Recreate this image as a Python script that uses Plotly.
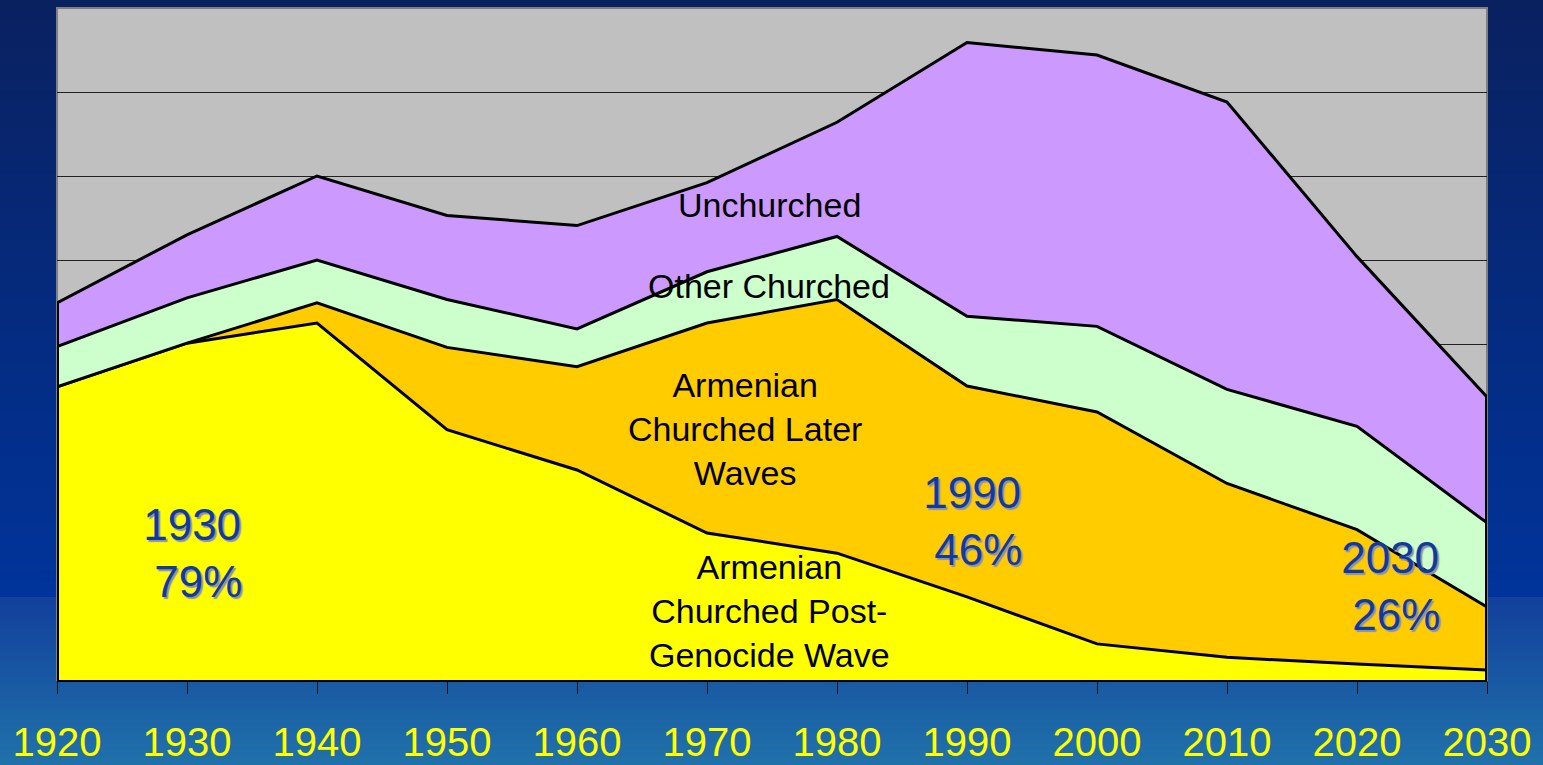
import plotly.graph_objects as go

years = [1920, 1930, 1940, 1950, 1960, 1970, 1980, 1990, 2000, 2010, 2020, 2030]
post_genocide = [349, 401, 425, 298, 250, 175, 151, 99, 43, 27, 19, 12]
later_waves = [0, 0, 24, 98, 123, 250, 302, 251, 276, 207, 160, 75]
other_churched = [48, 54, 51, 57, 45, 61, 75, 83, 102, 112, 123, 100]
unchurched = [52, 75, 100, 100, 123, 106, 136, 326, 323, 342, 202, 150]

series = [
    ("Armenian Churched Post-Genocide Wave", post_genocide, "#FFFF00"),
    ("Armenian Churched Later Waves", later_waves, "#FFCC00"),
    ("Other Churched", other_churched, "#CCFFCC"),
    ("Unchurched", unchurched, "#CC99FF"),
]

totals = [a + b + c + d for a, b, c, d in zip(post_genocide, later_waves, other_churched, unchurched)]

fig = go.Figure()
for name, vals, col in series:
    fig.add_trace(go.Scatter(
        x=years, y=vals, name=name, stackgroup="one", mode="lines",
        line=dict(color="black", width=3), fillcolor=col, hoverinfo="x+y+name",
    ))

# outline edges of the stacked area at both ends
for idx in (0, -1):
    fig.add_trace(go.Scatter(x=[years[idx], years[idx]], y=[0, totals[idx]], mode="lines",
                             line=dict(color="black", width=4), hoverinfo="skip", showlegend=False))

# background gradient (slide-like)
W, H = 1543, 765
mt, mb = 8, 85
ph = H - mt - mb


def py2paper(p):
    return (H - mb - p) / ph


def lerp(c1, c2, t):
    return tuple(int(round(a + (b - a) * t)) for a, b in zip(c1, c2))


shapes = []
step = 3
for p in range(0, H + step, step):
    if p < 597:
        c = lerp((10, 33, 96), (0, 52, 155), p / 597)
    else:
        c = lerp((18, 64, 156), (32, 114, 170), min(1, (p - 597) / (H - 597)))
    shapes.append(dict(type="rect", xref="paper", yref="paper", x0=-0.1, x1=1.1,
                       y0=py2paper(p + step + 0.5), y1=py2paper(p), layer="below",
                       line=dict(width=0), fillcolor="rgb(%d,%d,%d)" % c))
shapes.append(dict(type="rect", xref="paper", yref="paper", x0=0, x1=1, y0=0, y1=1,
                   layer="below", fillcolor="#C0C0C0", line=dict(color="#808080", width=2)))

labels_black = [
    ("Unchurched", 1974.8, 565),
    ("Other Churched", 1974.8, 469),
    ("Armenian<br>Churched Later<br>Waves", 1972.9, 299),
    ("Armenian<br>Churched Post-<br>Genocide Wave", 1974.8, 82),
]
labels_blue = [
    ("1930<br>&nbsp;79%", 1930.4, 151),
    ("1990<br>&nbsp;46%", 1990.4, 189),
    ("2030<br>&nbsp;26%", 2022.5, 112),
]

annotations = []
for t, x, y in labels_black:
    annotations.append(dict(text=t, x=x, y=y, xref="x", yref="y", showarrow=False,
                            font=dict(family="Liberation Sans, Arial", size=34, color="black"),
                            align="center"))
for t, x, y in labels_blue:
    annotations.append(dict(text=t, x=x, y=y, xref="x", yref="y", showarrow=False,
                            font=dict(family="Liberation Sans, Arial", size=44, color="#0F3A9E",
                                      shadow="2px 2px 1px #9090A0"),
                            align="center"))

fig.update_layout(
    width=W, height=H,
    margin=dict(l=57, r=56, t=mt, b=mb, autoexpand=False),
    paper_bgcolor="#00339C",
    plot_bgcolor="#C0C0C0",
    showlegend=False,
    shapes=shapes,
    annotations=annotations,
    xaxis=dict(range=[1920, 2030], tickvals=years, ticktext=[str(y) for y in years],
               showgrid=False, zeroline=False, showline=True, linecolor="black", linewidth=2,
               ticks="outside", ticklen=12, tickcolor="#101010", tickwidth=1,
               tickfont=dict(family="Liberation Sans, Arial", size=40, color="#FFFF00"),
               ticklabelstandoff=14, automargin=False),
    yaxis=dict(range=[0, 800], dtick=100, showgrid=True, gridcolor="#222222", gridwidth=1,
               showticklabels=False, zeroline=False, showline=False, ticks="", automargin=False),
)

fig.write_html("out.html", config={"displayModeBar": False},
               post_script="document.body.style.margin='0px';document.body.style.overflow='hidden';")
